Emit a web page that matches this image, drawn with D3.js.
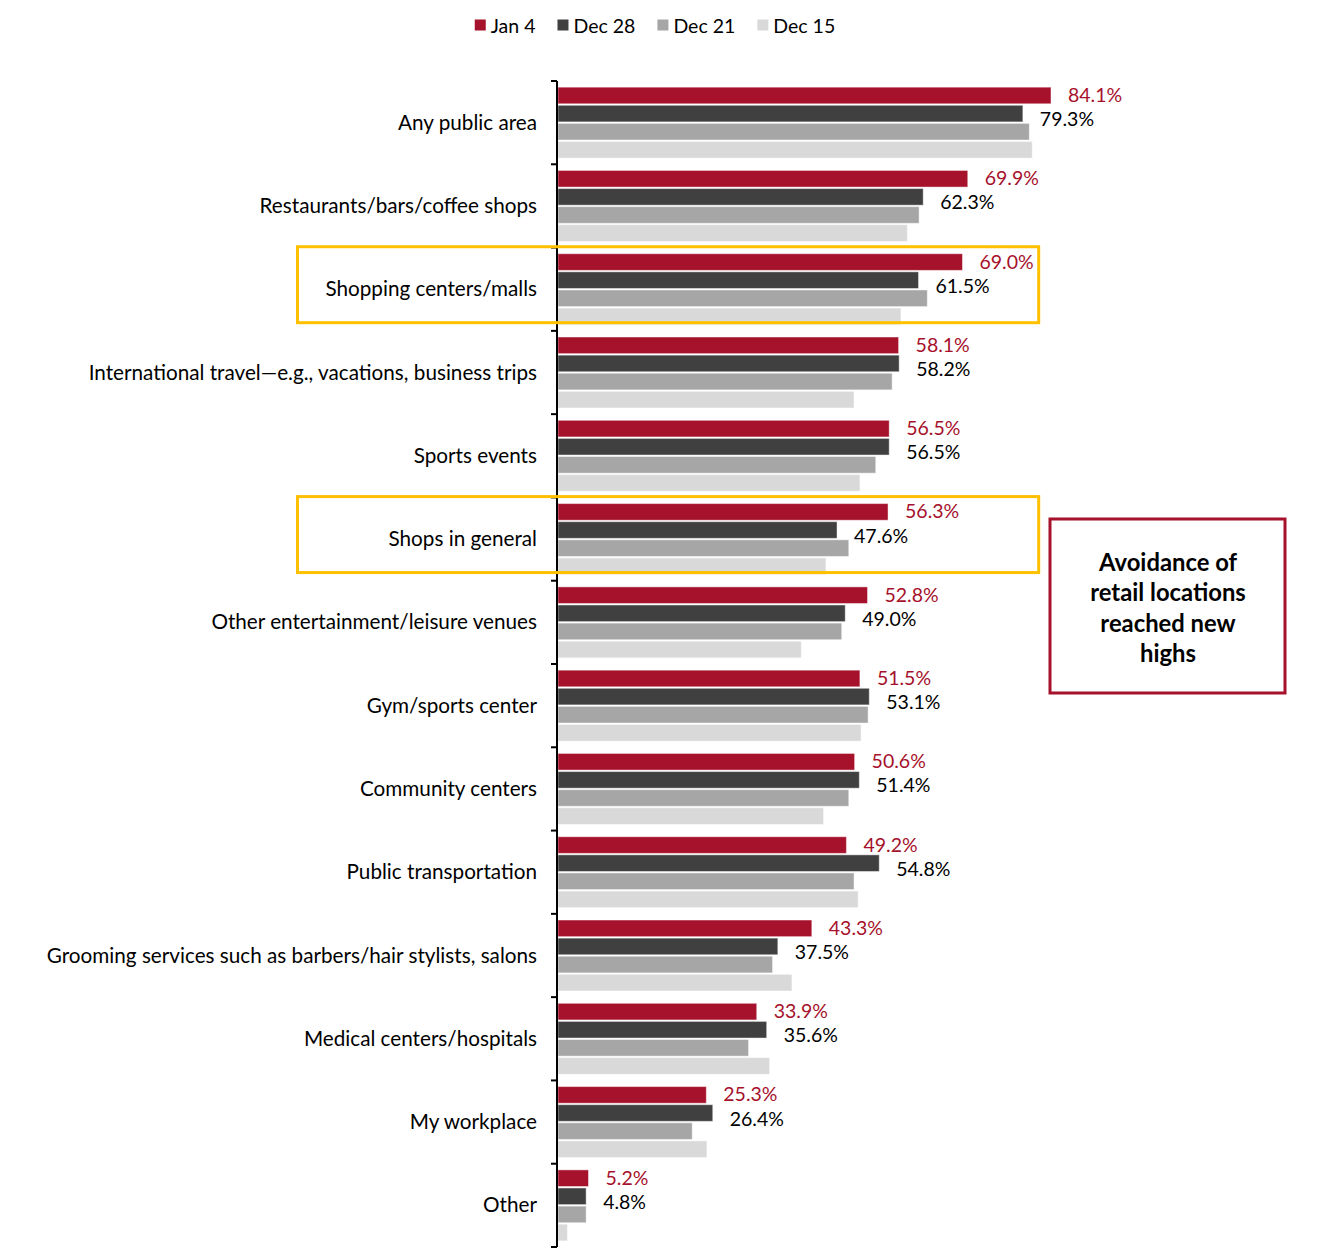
<!DOCTYPE html>
<html>
<head>
<meta charset="utf-8">
<script src="https://cdn.jsdelivr.net/npm/d3@7"></script>
<style>
  html, body { margin: 0; padding: 0; background: #fff; }
  svg { display: block; font-family: Lato, "Open Sans", sans-serif; }
</style>
</head>
<body>
<svg id="chart" width="1337" height="1253"></svg>
<script>
const categories = [
  "Any public area",
  "Restaurants/bars/coffee shops",
  "Shopping centers/malls",
  "International travel\u2014e.g., vacations, business trips",
  "Sports events",
  "Shops in general",
  "Other entertainment/leisure venues",
  "Gym/sports center",
  "Community centers",
  "Public transportation",
  "Grooming services such as barbers/hair stylists, salons",
  "Medical centers/hospitals",
  "My workplace",
  "Other"
];
const seriesNames = ["Jan 4", "Dec 28", "Dec 21", "Dec 15"];
const jan4  = [84.1, 69.9, 69.0, 58.1, 56.5, 56.3, 52.8, 51.5, 50.6, 49.2, 43.3, 33.9, 25.3, 5.2];
const dec28 = [79.3, 62.3, 61.5, 58.2, 56.5, 47.6, 49.0, 53.1, 51.4, 54.8, 37.5, 35.6, 26.4, 4.8];
const dec21 = [80.4, 61.6, 63.0, 57.0, 54.2, 49.6, 48.4, 52.9, 49.6, 50.5, 36.6, 32.5, 22.9, 4.8];
const dec15 = [80.9, 59.6, 58.5, 50.5, 51.5, 45.7, 41.5, 51.7, 45.3, 51.2, 39.9, 36.1, 25.4, 1.6];
const highlighted = ["Shopping centers/malls", "Shops in general"];
const calloutLines = ["Avoidance of", "retail locations", "reached new", "highs"];

const seriesValues = [jan4, dec28, dec21, dec15];
const colors = ["#A6112B", "#404040", "#A6A6A6", "#D9D9D9"];
const labelRed = "#A6112B";

const svg = d3.select("#chart");

const x = d3.scaleLinear().domain([0, 100]).range([558, 558 + 586.2]);
const y0 = d3.scaleBand().domain(categories).range([81, 1247])
  .paddingInner(0.148).paddingOuter(0.074);
const y1 = d3.scaleBand().domain(seriesNames).range([0, y0.bandwidth()])
  .paddingInner(0.082).paddingOuter(0);

const rows = categories.map((c, i) => ({
  cat: c,
  vals: seriesNames.map((s, j) => ({ series: s, j: j, v: seriesValues[j][i] }))
}));

// bars
const groups = svg.append("g").selectAll("g.grp").data(rows).join("g")
  .attr("class", "grp")
  .attr("transform", d => `translate(0,${y0(d.cat)})`);

groups.selectAll("rect").data(d => d.vals).join("rect")
  .attr("x", x(0))
  .attr("y", d => y1(d.series))
  .attr("width", d => x(d.v) - x(0))
  .attr("height", y1.bandwidth())
  .attr("fill", d => colors[d.j])
  .attr("stroke", "rgba(255,255,255,0.45)")
  .attr("stroke-width", 1);

// value labels for Jan 4 and Dec 28
groups.selectAll("text.val").data(d => d.vals.slice(0, 2)).join("text")
  .attr("class", "val")
  .attr("x", d => x(d.v) + 17)
  .attr("y", d => y1(d.series) + y1.bandwidth() / 2 + (d.j === 0 ? -1 : 5))
  .attr("dominant-baseline", "central")
  .attr("font-size", 19.5)
  .attr("fill", d => d.j === 0 ? labelRed : "#000")
  .text(d => d.v.toFixed(1) + "%");

// category axis
const axisG = svg.append("g").attr("transform", `translate(${x(0) - 1},0)`);
const boundaries = d3.range(categories.length + 1).map(i => 81 + i * y0.step());
axisG.append("line")
  .attr("x1", 0).attr("x2", 0)
  .attr("y1", boundaries[0]).attr("y2", boundaries[boundaries.length - 1])
  .attr("stroke", "#000").attr("stroke-width", 2);
axisG.selectAll("line.tick").data(boundaries).join("line")
  .attr("class", "tick")
  .attr("x1", -6).attr("x2", 0)
  .attr("y1", d => d).attr("y2", d => d)
  .attr("stroke", "#000").attr("stroke-width", 2);

svg.append("g").selectAll("text").data(categories).join("text")
  .attr("x", 537)
  .attr("y", d => y0(d) + y0.bandwidth() / 2 - 1)
  .attr("text-anchor", "end")
  .attr("dominant-baseline", "central")
  .attr("font-size", 20.7)
  .attr("fill", "#000")
  .text(d => d);

// highlight boxes
svg.append("g").selectAll("rect").data(highlighted).join("rect")
  .attr("x", 297.5)
  .attr("y", d => y0(d) - 7)
  .attr("width", x(82) - 297.5)
  .attr("height", y0.bandwidth() + 5)
  .attr("fill", "none")
  .attr("stroke", "#FFC000")
  .attr("stroke-width", 3);

// callout
svg.append("rect")
  .attr("x", 1050).attr("y", 519).attr("width", 235).attr("height", 174)
  .attr("fill", "#fff").attr("stroke", labelRed).attr("stroke-width", 3);
svg.append("g").selectAll("text").data(calloutLines).join("text")
  .attr("x", 1168)
  .attr("y", (d, i) => 562 + i * 30.3)
  .attr("text-anchor", "middle")
  .attr("dominant-baseline", "central")
  .attr("font-size", 23.8)
  .attr("font-weight", "bold")
  .attr("fill", "#000")
  .text(d => d);

// legend
const legend = svg.append("g");
const items = legend.selectAll("g").data(seriesNames).join("g");
items.append("rect").attr("width", 11).attr("height", 11).attr("y", -5.5)
  .attr("fill", (d, i) => colors[i]);
items.append("text").attr("x", 16).attr("dominant-baseline", "central")
  .attr("font-size", 19.5).attr("fill", "#000").text(d => d);
let cx = 0;
const offs = [];
items.each(function() {
  offs.push(cx);
  const w = 16 + this.querySelector("text").getComputedTextLength();
  cx += w + 22;
});
const total = cx - 22;
const startX = 655 - total / 2;
items.attr("transform", (d, i) => `translate(${startX + offs[i]},25)`);
</script>
</body>
</html>
